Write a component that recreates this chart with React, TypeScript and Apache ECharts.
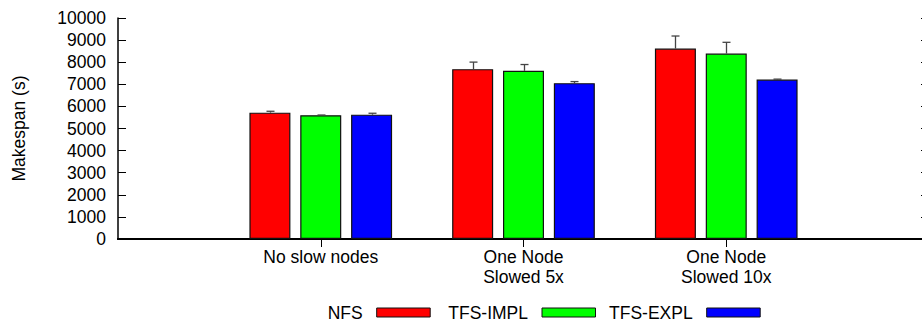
import React, { useEffect, useRef } from "react";
import * as echarts from "echarts";

const categories = ["", "No slow nodes", "One Node\nSlowed 5x", "One Node\nSlowed 10x", ""];
const seriesNames = ["NFS", "TFS-IMPL", "TFS-EXPL"];
const nfsValues = [5717, 7686, 8615];
const nfsErrors = [63, 318, 570];
const implValues = [5600, 7609, 8389];
const implErrors = [10, 286, 511];
const explValues = [5626, 7051, 7214];
const explErrors = [64, 72, 20];

const colors = ["#ff0000", "#00ff00", "#0000ff"];
const legendRights = [491.3, 326, 161.3];
const BAR_W = 41;
const BAR_GAP = 0.24;
const FONT = "'Liberation Sans', Arial, sans-serif";
const FS = 17.5;

export default function App() {
  const ref = useRef<HTMLDivElement>(null);
  useEffect(() => {
    if (!ref.current) return;
    const chart = echarts.init(ref.current, null, { renderer: "svg" });
    const values = [nfsValues, implValues, explValues];
    const errors = [nfsErrors, implErrors, explErrors];
    const pitch = BAR_W * (1 + BAR_GAP);

    const barSeries = seriesNames.map((name, s) => ({
      name,
      type: "bar",
      xAxisIndex: 0,
      yAxisIndex: 0,
      barWidth: BAR_W,
      barGap: `${BAR_GAP * 100}%`,
      data: values[s].map((v, i) => [i + 1, v]),
      itemStyle: { color: colors[s], borderColor: "#111", borderWidth: 1.2 },
    }));

    const errData: number[][] = [];
    values.forEach((vals, s) =>
      vals.forEach((v, i) => errData.push([i + 1, v, errors[s][i], s]))
    );

    const legends = seriesNames.map((name, s) => ({
      data: [name],
      right: legendRights[s],
      top: 303.5,
      padding: 0,
      align: "right",
      icon: "rect",
      itemWidth: 53.5,
      itemHeight: 9,
      selectedMode: false,
      itemStyle: { borderColor: "#111", borderWidth: 1 },
      textStyle: {
        fontFamily: FONT,
        fontSize: FS,
        color: "#000",
        padding: [0, 9, 0, 0],
      },
    }));

    const option: any = {
      animation: false,
      textStyle: { fontFamily: FONT },
      grid: {
        left: 118,
        top: 18,
        width: 811,
        height: 221,
        containLabel: false,
        outerBoundsMode: "none",
      },
      legend: legends,
      xAxis: [
        {
          type: "category",
          data: categories,
          boundaryGap: false,
          position: "bottom",
          axisLine: { show: true, lineStyle: { color: "#000", width: 2 } },
          axisTick: { show: false },
          axisLabel: {
            interval: 0,
            fontFamily: FONT,
            fontSize: FS,
            color: "#000",
            lineHeight: 20,
            margin: 8,
          },
          splitLine: { show: false },
        },
        {
          type: "category",
          data: categories,
          boundaryGap: false,
          position: "top",
          axisLine: { show: true, lineStyle: { color: "#000", width: 2 } },
          axisTick: {
            show: true,
            inside: true,
            length: 8,
            interval: (i: number) => i >= 1 && i <= 3,
            lineStyle: { color: "#000", width: 1 },
          },
          axisLabel: { show: false },
          splitLine: { show: false },
        },
      ],
      yAxis: [
        {
          type: "value",
          min: 0,
          max: 10000,
          interval: 1000,
          position: "left",
          name: "Makespan (s)",
          nameLocation: "middle",
          nameGap: 90,
          nameTextStyle: { fontFamily: FONT, fontSize: FS, color: "#000" },
          axisLine: { show: true, lineStyle: { color: "#000", width: 1.5 } },
          axisTick: { show: true, inside: true, length: 8, lineStyle: { color: "#000", width: 1 } },
          axisLabel: {
            fontFamily: FONT,
            fontSize: FS,
            color: "#000",
            margin: 12,
            formatter: (v: number) => String(v),
          },
          splitLine: { show: false },
        },
        {
          type: "value",
          min: 0,
          max: 10000,
          interval: 1000,
          position: "right",
          axisLine: { show: true, lineStyle: { color: "#000", width: 1.5 } },
          axisTick: { show: true, inside: true, length: 8, lineStyle: { color: "#000", width: 1 } },
          axisLabel: { show: false },
          splitLine: { show: false },
        },
      ],
      series: [
        ...barSeries,
        {
          type: "custom",
          name: "errors",
          xAxisIndex: 0,
          yAxisIndex: 0,
          z: 5,
          encode: { x: 0, y: 1 },
          data: errData,
          renderItem: (_params: any, api: any) => {
            const x = api.value(0);
            const v = api.value(1);
            const e = api.value(2);
            const s = api.value(3);
            const base = api.coord([x, v]);
            const top = api.coord([x, v + e]);
            const cx = Math.round(base[0] + (s - 1) * pitch) + 0.5;
            const style = { stroke: "#444", lineWidth: 1.3 };
            return {
              type: "group",
              children: [
                { type: "line", shape: { x1: cx, y1: base[1], x2: cx, y2: top[1] }, style },
                { type: "line", shape: { x1: cx - 4, y1: top[1], x2: cx + 4, y2: top[1] }, style },
              ],
            };
          },
        },
      ],
    };
    chart.setOption(option);
    return () => chart.dispose();
  }, []);
  return (
    <div
      ref={ref}
      style={{ position: "fixed", left: 0, top: 0, width: 922, height: 321, background: "#fff" }}
    />
  );
}
